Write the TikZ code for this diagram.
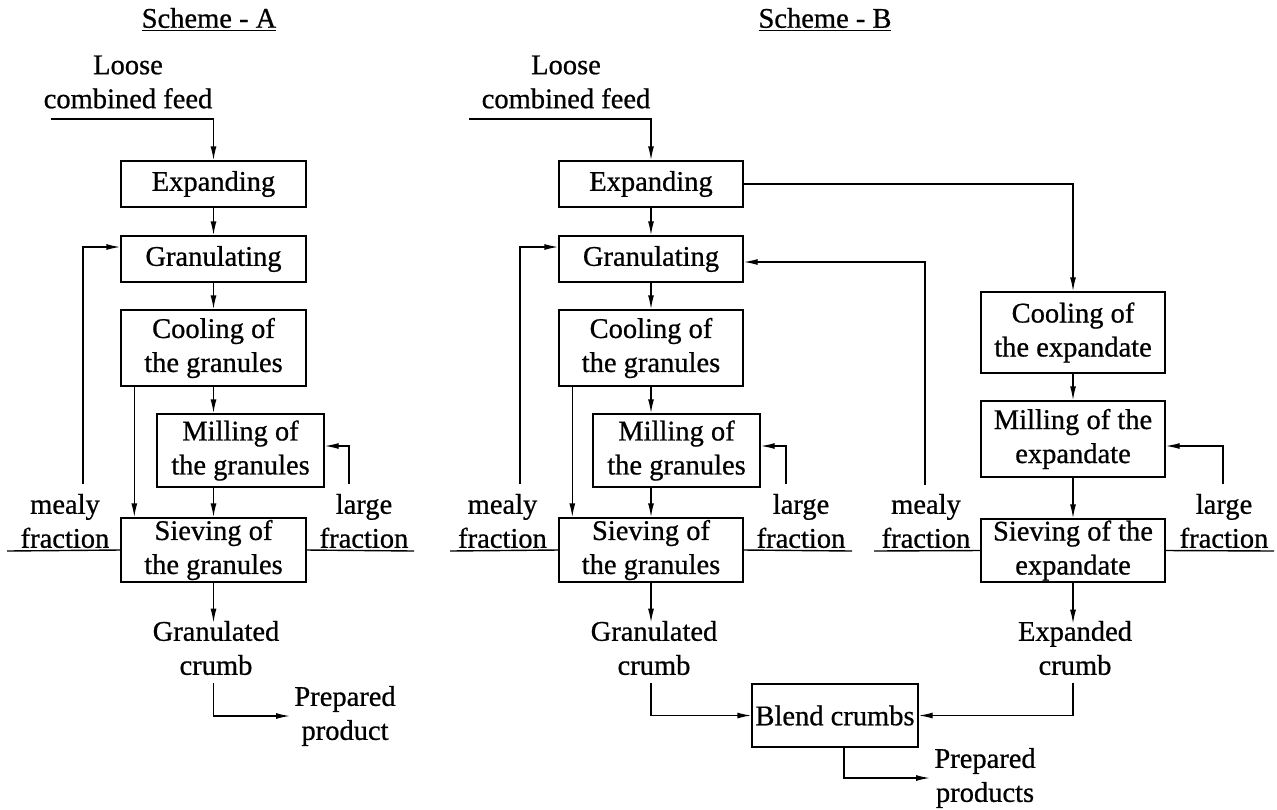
\documentclass[tikz,border=0pt]{standalone}
\usepackage{fontspec}
\setmainfont{Liberation Serif}[FakeBold=0.7]
\usetikzlibrary{arrows.meta,calc}
\begin{document}
\begin{tikzpicture}[x=0.5pt,y=-0.5pt,
  every node/.style={font=\fontsize{14.25pt}{17pt}\selectfont, align=center},
  box/.style={draw, line width=0.7pt, inner sep=0pt},
  lbl/.style={inner sep=2pt},
  ln/.style={line width=0.7pt},
  arr/.style={ln, -{Latex[length=7pt,width=3pt]}}]
\useasboundingbox (0,0) rectangle (1277,809);

% ---------- Scheme A ----------
\node[lbl] (tA) at (209,20) {\underline{Scheme - A}};
\node[lbl] (fA) at (128,82) {Loose\\combined feed};
\node[box,minimum width=92.5pt,minimum height=23pt] (eA) at (213.5,184) {Expanding};
\node[box,minimum width=92.5pt,minimum height=23pt] (gA) at (213.5,259) {Granulating};
\node[box,minimum width=92.5pt,minimum height=38pt] (cA) at (213.5,348) {Cooling of\\the granules};
\node[box,minimum width=83.5pt,minimum height=36.5pt] (mA) at (240.5,450.5) {Milling of\\the granules};
\node[box,minimum width=92.5pt,minimum height=32pt] (sA) at (213.5,550) {Sieving of\\the granules};
\node[lbl] (mfA) at (65,521) {mealy\\fraction};
\node[lbl] (lfA) at (364,521) {large\\fraction};
\node[lbl] (gcA) at (216,648) {Granulated\\crumb};
\node[lbl,anchor=west] (ppA) at (290,716) {Prepared\\product};

\coordinate (inA) at (51,119);
\coordinate (mlA) at (83,484);
\coordinate (hlA) at (7,551);
\coordinate (lgA) at (349,484);
\coordinate (hrA) at (414,551);

\draw[arr] (inA) -| (eA.north);
\draw[arr] (eA.south) -- (gA.north);
\draw[arr] (gA.south) -- (cA.north);
\draw[arr] (cA.south) -- (cA.south |- mA.north);
\draw[arr] (sA.north |- mA.south) -- (sA.north);
\draw[arr] ($(cA.south west)+(14,0)$) -- ($(sA.north west)+(14,0)$);
\draw[ln] (hlA) -- (sA.west);
\draw[arr] (mlA) |- ($(gA.west)+(0,-12)$);
\draw[ln] (sA.east) -- (hrA);
\draw[arr] (lgA) |- ($(mA.east)+(0,-4.5)$);
\draw[arr] (sA.south) -- ($(sA.south)+(0,40)$);
\draw[arr] ($(sA.south)+(0,100)$) |- (ppA.west);

% ---------- Scheme B ----------
\node[lbl] (tB) at (825,20) {\underline{Scheme - B}};
\node[lbl] (fB) at (566,82) {Loose\\combined feed};
\node[box,minimum width=92pt,minimum height=23pt] (eB) at (651,184) {Expanding};
\node[box,minimum width=92pt,minimum height=23pt] (gB) at (651,259) {Granulating};
\node[box,minimum width=92pt,minimum height=38pt] (cB) at (651,348) {Cooling of\\the granules};
\node[box,minimum width=83.5pt,minimum height=36.5pt] (mB) at (676.5,450.5) {Milling of\\the granules};
\node[box,minimum width=92pt,minimum height=32pt] (sB) at (651,550) {Sieving of\\the granules};
\node[lbl] (mfB) at (502.5,521) {mealy\\fraction};
\node[lbl] (lfB) at (801,521) {large\\fraction};
\node[lbl] (gcB) at (654,648) {Granulated\\crumb};

\node[box,minimum width=92pt,minimum height=40.5pt] (ceB) at (1073,332.5) {Cooling of\\the expandate};
\node[box,minimum width=92pt,minimum height=38pt] (meB) at (1073,439) {Milling of the\\expandate};
\node[box,minimum width=92pt,minimum height=31.5pt] (seB) at (1073,550.5) {Sieving of the\\expandate};
\node[lbl] (mfB2) at (926,521) {mealy\\fraction};
\node[lbl] (lfB2) at (1224,521) {large\\fraction};
\node[lbl] (ecB) at (1075,648) {Expanded\\crumb};

\node[box,minimum width=83pt,minimum height=31.5pt] (bl) at (835,715.5) {Blend crumbs};
\node[lbl,anchor=west] (ppB) at (930,778) {Prepared\\products};

\coordinate (inB) at (469,119);
\coordinate (mlB) at (520,484);
\coordinate (hlB) at (450,551);
\coordinate (lgB) at (786,484);
\coordinate (hrB) at (852,551);
\coordinate (mlB2) at (925,485);
\coordinate (hlB2) at (874,551);
\coordinate (lgB2) at (1223,484);
\coordinate (hrB2) at (1274,551);

\draw[arr] (inB) -| (eB.north);
\draw[arr] (eB.south) -- (gB.north);
\draw[arr] (gB.south) -- (cB.north);
\draw[arr] (cB.south) -- (cB.south |- mB.north);
\draw[arr] (sB.north |- mB.south) -- (sB.north);
\draw[arr] ($(cB.south west)+(14,0)$) -- ($(sB.north west)+(14,0)$);
\draw[ln] (hlB) -- (sB.west);
\draw[arr] (mlB) |- ($(gB.west)+(0,-12)$);
\draw[ln] (sB.east) -- (hrB);
\draw[arr] (lgB) |- ($(mB.east)+(0,-4.5)$);
\draw[arr] (sB.south) -- ($(sB.south)+(0,40)$);
\draw[arr] ($(sB.south)+(0,100)$) |- (bl.west);

\draw[arr] (eB.east) -| (ceB.north);
\draw[arr] (ceB.south) -- (meB.north);
\draw[arr] (meB.south) -- (seB.north);
\draw[ln] (hlB2) -- (seB.west);
\draw[arr] (mlB2) |- ($(gB.east)+(0,3)$);
\draw[ln] (seB.east) -- (hrB2);
\draw[arr] (lgB2) |- ($(meB.east)+(0,7)$);
\draw[arr] (seB.south) -- ($(seB.south)+(0,41)$);
\draw[arr] ($(seB.south)+(0,100)$) |- (bl.east);
\draw[arr] ($(bl.south)+(9,0)$) |- (ppB.west);
\end{tikzpicture}
\end{document}
